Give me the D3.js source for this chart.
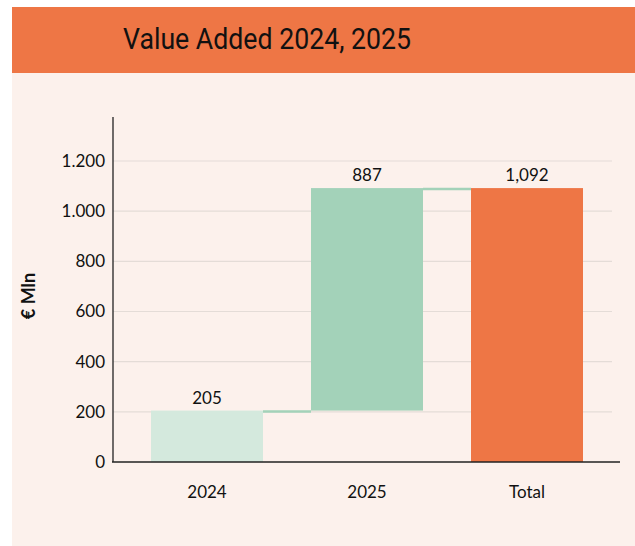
<!DOCTYPE html>
<html>
<head>
<meta charset="utf-8">
<script src="https://cdn.jsdelivr.net/npm/d3@7"></script>
<style>
  body { margin: 0; background: #fff; }
  text { font-family: "Lato", "Inter", sans-serif; fill: #111; }
</style>
</head>
<body>
<script>
// waterfall data
var categories = ["2024", "2025", "Total"];
var values = [205, 887, 1092];
var isTotal = [false, false, true];
var yTicks = [0, 200, 400, 600, 800, 1000, 1200];
var yTickLabels = ["0", "200", "400", "600", "800", "1.000", "1.200"];
var valueLabels = ["205", "887", "1,092"];
var barColors = ["#d4e9dd", "#a3d2b9", "#ee7645"];

var W = 635, H = 546;
var svg = d3.select("body").append("svg")
    .attr("width", W)
    .attr("height", H);

// panel + title band
svg.append("rect").attr("x", 12).attr("y", 72).attr("width", W - 12).attr("height", H - 72)
    .attr("fill", "#fcf1ec");
svg.append("rect").attr("x", 12).attr("y", 7).attr("width", W - 12).attr("height", 66)
    .attr("fill", "#ee7645");
svg.append("text")
    .attr("x", 267).attr("y", 49)
    .attr("text-anchor", "middle")
    .attr("textLength", 288)
    .attr("lengthAdjust", "spacingAndGlyphs")
    .style("font-family", "Roboto, sans-serif")
    .style("font-size", "30px")
    .style("font-weight", 400)
    .text("Value Added 2024, 2025");

var x = d3.scaleBand().domain(categories).range([127, 607]).paddingInner(0.3).paddingOuter(0.15);
var y = d3.scaleLinear().domain([0, 1200]).range([462, 161]);

// running bases for the waterfall
var bars = [];
var run = 0;
values.forEach(function (v, i) {
  var b = isTotal[i] ? { y0: 0, y1: v } : { y0: run, y1: run + v };
  if (!isTotal[i]) run += v;
  b.cat = categories[i]; b.label = valueLabels[i]; b.color = barColors[i];
  bars.push(b);
});

// gridlines
svg.append("g").selectAll("line").data(yTicks.slice(1)).join("line")
    .attr("x1", 113).attr("x2", 612)
    .attr("y1", function (d) { return y(d); })
    .attr("y2", function (d) { return y(d); })
    .attr("stroke", "#e4dcd7").attr("stroke-width", 1.2);

// bars
svg.append("g").selectAll("rect").data(bars).join("rect")
    .attr("x", function (d) { return x(d.cat); })
    .attr("width", x.bandwidth())
    .attr("y", function (d) { return y(d.y1); })
    .attr("height", function (d) { return y(d.y0) - y(d.y1); })
    .attr("fill", function (d) { return d.color; });

// connectors
svg.append("g").selectAll("line").data(bars.slice(0, -1)).join("line")
    .attr("x1", function (d) { return x(d.cat) + x.bandwidth(); })
    .attr("x2", function (d, i) { return x(bars[i + 1].cat); })
    .attr("y1", function (d) { return y(d.y1) + 1; })
    .attr("y2", function (d) { return y(d.y1) + 1; })
    .attr("stroke", "#a3d2b9").attr("stroke-width", 2.5);

// value labels
svg.append("g").selectAll("text").data(bars).join("text")
    .attr("x", function (d) { return x(d.cat) + x.bandwidth() / 2; })
    .attr("y", function (d) { return y(d.y1) - 7; })
    .attr("text-anchor", "middle")
    .style("font-size", "17px")
    .text(function (d) { return d.label; });

// Y axis
var yAxis = svg.append("g")
    .attr("transform", "translate(113,0)")
    .call(d3.axisLeft(y).tickValues(yTicks).tickSize(0).tickPadding(8)
      .tickFormat(function (d, i) { return yTickLabels[i]; }));
yAxis.select(".domain").remove();
yAxis.selectAll("text").style("font-size", "17px").style("font-family", "Lato, Inter, sans-serif").attr("fill", "#111");
svg.append("line").attr("x1", 113).attr("x2", 113).attr("y1", 117).attr("y2", y(0))
    .attr("stroke", "#222").attr("stroke-width", 1.3);

// X axis
var xAxis = svg.append("g")
    .attr("transform", "translate(0," + y(0) + ")")
    .call(d3.axisBottom(x).tickSize(0).tickPadding(24));
xAxis.select(".domain").remove();
xAxis.selectAll("text").style("font-size", "17px").style("font-family", "Lato, Inter, sans-serif").attr("fill", "#111");
svg.append("line").attr("x1", 112).attr("x2", 620).attr("y1", y(0)).attr("y2", y(0))
    .attr("stroke", "#222").attr("stroke-width", 1.6);

// axis title
svg.append("text")
    .attr("transform", "translate(35,296) rotate(-90)")
    .attr("text-anchor", "middle")
    .style("font-size", "18px")
    .style("font-weight", 700)
    .text("€ Mln");
</script>
</body>
</html>
